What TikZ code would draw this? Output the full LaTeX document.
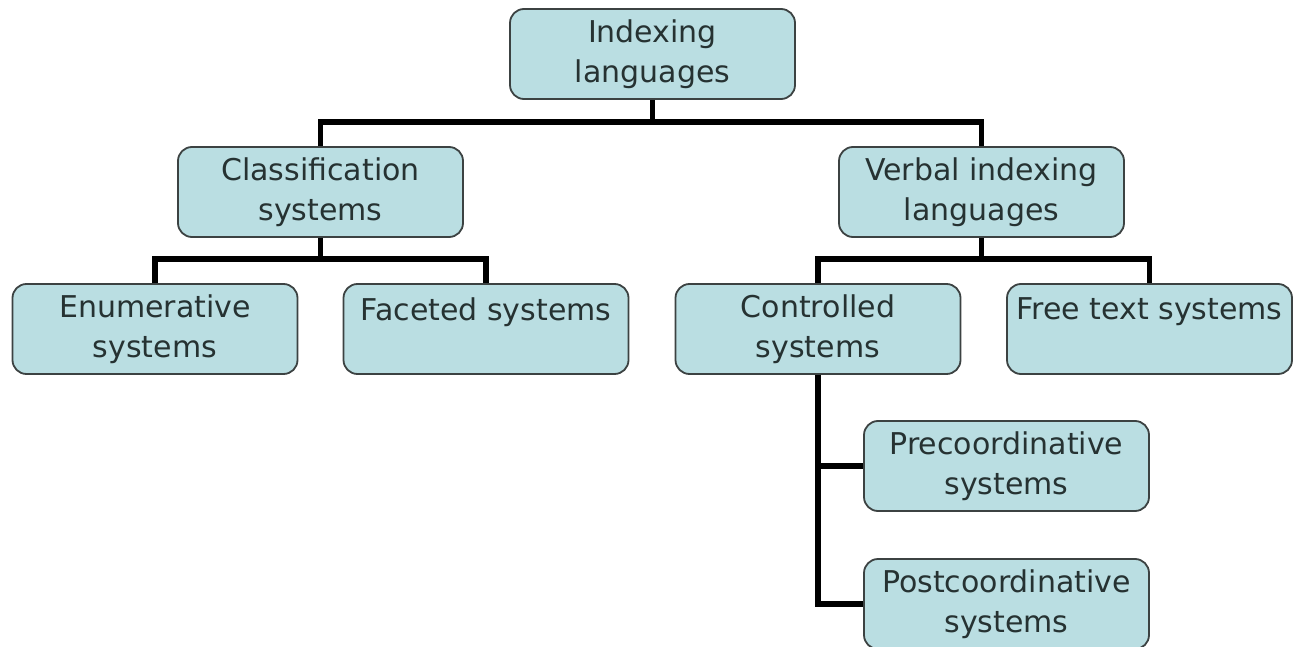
\documentclass[tikz,border=0pt]{standalone}
\usepackage{fontspec}
\setmainfont{DejaVu Sans}
\definecolor{boxfill}{RGB}{186,222,226}
\definecolor{boxline}{RGB}{60,66,66}
\definecolor{txt}{RGB}{38,50,50}
\begin{document}
\begin{tikzpicture}[x=1pt,y=-1pt,
  box/.style={draw=boxline, line width=1.8pt, fill=boxfill, rounded corners=14pt,
    minimum width=285pt, minimum height=90pt, inner sep=0pt, align=center,
    font=\fontsize{30}{40}\selectfont, text=txt},
  conn/.style={line width=5.5pt, draw=black}]
\useasboundingbox (0,0) rectangle (1296,647);
\node[box] (idx)  at (652.5,54)  {Indexing\\languages};
\node[box] (cls)  at (320.5,192) {Classification\\systems};
\node[box] (verb) at (981.5,192) {Verbal indexing\\languages};
\node[box] (enu)  at (155,329)   {Enumerative\\systems};
\node[box] (fac)  at (486,329)   {Faceted systems\\\mbox{}};
\node[box] (con)  at (818,329)   {Controlled\\systems};
\node[box] (free) at (1149.5,329) {Free text systems\\\mbox{}};
\node[box] (pre)  at (1006.5,466) {Precoordinative\\systems};
\node[box] (post) at (1006.5,604) {Postcoordinative\\systems};
\draw[conn] (idx.south) -- ++(0,23);
\draw[conn] (cls.north) -- ++(0,-24) -| (verb.north);
\draw[conn] (cls.south) -- ++(0,23);
\draw[conn] (enu.north) -- ++(0,-24) -| (fac.north);
\draw[conn] (verb.south) -- ++(0,23);
\draw[conn] (con.north) -- ++(0,-24) -| (free.north);
\draw[conn] (con.south) |- (pre.west);
\draw[conn] (con.south) |- (post.west);
\end{tikzpicture}
\end{document}
